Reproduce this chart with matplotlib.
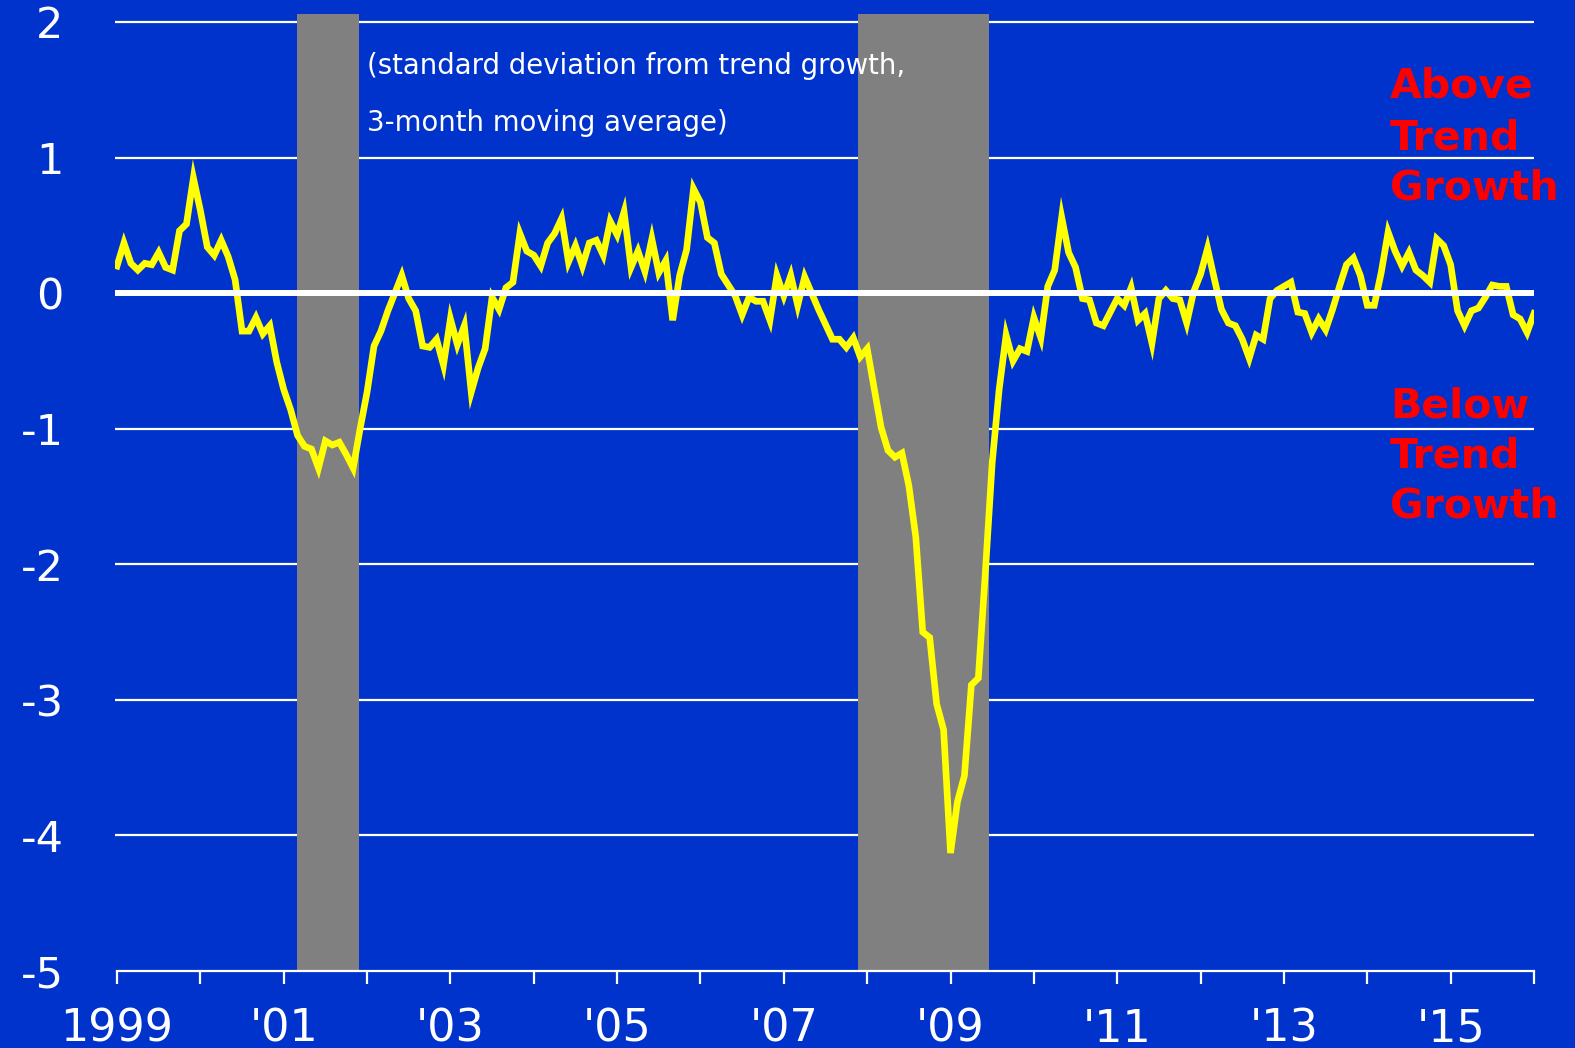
import matplotlib
matplotlib.use("Agg")
import matplotlib.pyplot as plt
import numpy as np

# monthly index, Jan 1999 .. Jan 2016 (std. dev. from trend, 3-month MA)
start_year = 1999
values = [
    0.20, 0.37, 0.22, 0.17, 0.22, 0.21, 0.30, 0.19, 0.17, 0.46, 0.51, 0.85,        # 1999
    0.61, 0.34, 0.28, 0.39, 0.27, 0.10, -0.28, -0.28, -0.18, -0.30, -0.24, -0.51,  # 2000
    -0.71, -0.86, -1.05, -1.13, -1.15, -1.29, -1.09, -1.12, -1.10, -1.19, -1.29, -1.00,  # 2001
    -0.73, -0.39, -0.28, -0.13, 0.00, 0.13, -0.04, -0.13, -0.39, -0.40, -0.34, -0.53,  # 2002
    -0.19, -0.38, -0.24, -0.73, -0.55, -0.41, -0.03, -0.12, 0.04, 0.08, 0.44, 0.31,  # 2003
    0.28, 0.20, 0.37, 0.44, 0.55, 0.23, 0.35, 0.20, 0.37, 0.39, 0.28, 0.53,        # 2004
    0.43, 0.60, 0.19, 0.31, 0.16, 0.40, 0.15, 0.24, -0.20, 0.13, 0.32, 0.77,       # 2005
    0.67, 0.41, 0.37, 0.14, 0.06, -0.02, -0.16, -0.03, -0.06, -0.06, -0.20, 0.13,  # 2006
    -0.02, 0.13, -0.09, 0.12, 0.00, -0.12, -0.23, -0.34, -0.34, -0.40, -0.33, -0.47,  # 2007
    -0.41, -0.70, -0.99, -1.16, -1.21, -1.18, -1.42, -1.80, -2.50, -2.54, -3.03, -3.22,  # 2008
    -4.13, -3.75, -3.56, -2.89, -2.84, -2.07, -1.25, -0.71, -0.31, -0.50, -0.41, -0.43,  # 2009
    -0.18, -0.33, 0.05, 0.17, 0.56, 0.30, 0.19, -0.04, -0.05, -0.22, -0.24, -0.14,  # 2010
    -0.04, -0.09, 0.04, -0.20, -0.15, -0.37, -0.04, 0.02, -0.04, -0.05, -0.22, 0.01,  # 2011
    0.14, 0.33, 0.10, -0.12, -0.22, -0.24, -0.34, -0.48, -0.31, -0.34, -0.04, 0.02,  # 2012
    0.05, 0.08, -0.14, -0.15, -0.29, -0.19, -0.27, -0.12, 0.05, 0.21, 0.26, 0.13,  # 2013
    -0.09, -0.09, 0.15, 0.45, 0.31, 0.20, 0.30, 0.17, 0.13, 0.08, 0.40, 0.35,      # 2014
    0.21, -0.13, -0.24, -0.13, -0.11, -0.03, 0.06, 0.05, 0.05, -0.16, -0.19, -0.29,  # 2015
    -0.15,                                                                          # 2016
]
dates = start_year + np.arange(len(values)) / 12.0

# recessions (decimal years)
recession_start = [2001.16, 2007.89]
recession_end = [2001.90, 2009.46]

y_ticks = [2, 1, 0, -1, -2, -3, -4, -5]
y_tick_labels = ["2", "1", "0", "-1", "-2", "-3", "-4", "-5"]
x_ticks = list(range(1999, 2017))
x_tick_labels = ["1999", "", "'01", "", "'03", "", "'05", "", "'07", "",
                 "'09", "", "'11", "", "'13", "", "'15", ""]

blue = "#0033CC"
W, H = 1575, 1048

fig = plt.figure(figsize=(W / 100, H / 100), dpi=100, facecolor=blue)
ax = fig.add_axes([115 / W, 1 - 971 / H, (1534 - 115) / W, (971 - 14) / H])
ax.set_facecolor(blue)

for y in y_ticks:
    if y not in (0, -5):
        ax.axhline(y, color="white", lw=1.6, zorder=0.5)

for s, e in zip(recession_start, recession_end):
    ax.axvspan(s, e, color="#808080", lw=0, zorder=1)

ax.plot(dates, values, color="#FFFF00", lw=4.8, zorder=2, solid_joinstyle="miter")
ax.plot([1999, 2016], [0, 0], color="white", lw=4.3, zorder=3)

ax.set_xlim(1999 - 2 / 83.35, 2016.0)
ax.set_ylim(-5, 2 + 8 / 135.6)

for side in ("top", "right", "left"):
    ax.spines[side].set_visible(False)
ax.spines["bottom"].set_color("white")
ax.spines["bottom"].set_linewidth(1.6)
ax.spines["bottom"].set_bounds(1999, 2016)
ax.spines["bottom"].set_zorder(4)

ax.set_yticks(y_ticks)
ax.set_yticklabels(y_tick_labels)
ax.set_xticks(x_ticks)
ax.set_xticklabels(x_tick_labels)
ax.tick_params(axis="y", length=0, pad=37, labelcolor="white", labelsize=31)
ax.tick_params(axis="x", length=9.5, width=1.6, color="white", direction="out",
               pad=17, labelcolor="white", labelsize=32)
for lab in ax.get_xticklabels() + ax.get_yticklabels():
    lab.set_family("DejaVu Sans")

fig.text(367 / W, 1 - 66 / H, "(standard deviation from trend growth,",
         color="white", fontsize=19.8, va="center", ha="left")
fig.text(367 / W, 1 - 123 / H, "3-month moving average)",
         color="white", fontsize=19.8, va="center", ha="left")

for txt, y in [("Above", 87), ("Trend", 138), ("Growth", 188),
               ("Below", 407), ("Trend", 457), ("Growth", 507)]:
    fig.text(1390 / W, 1 - y / H, txt, color="#FF0000", fontsize=29.5,
             fontweight="heavy", va="center", ha="left")

fig.savefig("out.png", dpi=100, facecolor=blue)
